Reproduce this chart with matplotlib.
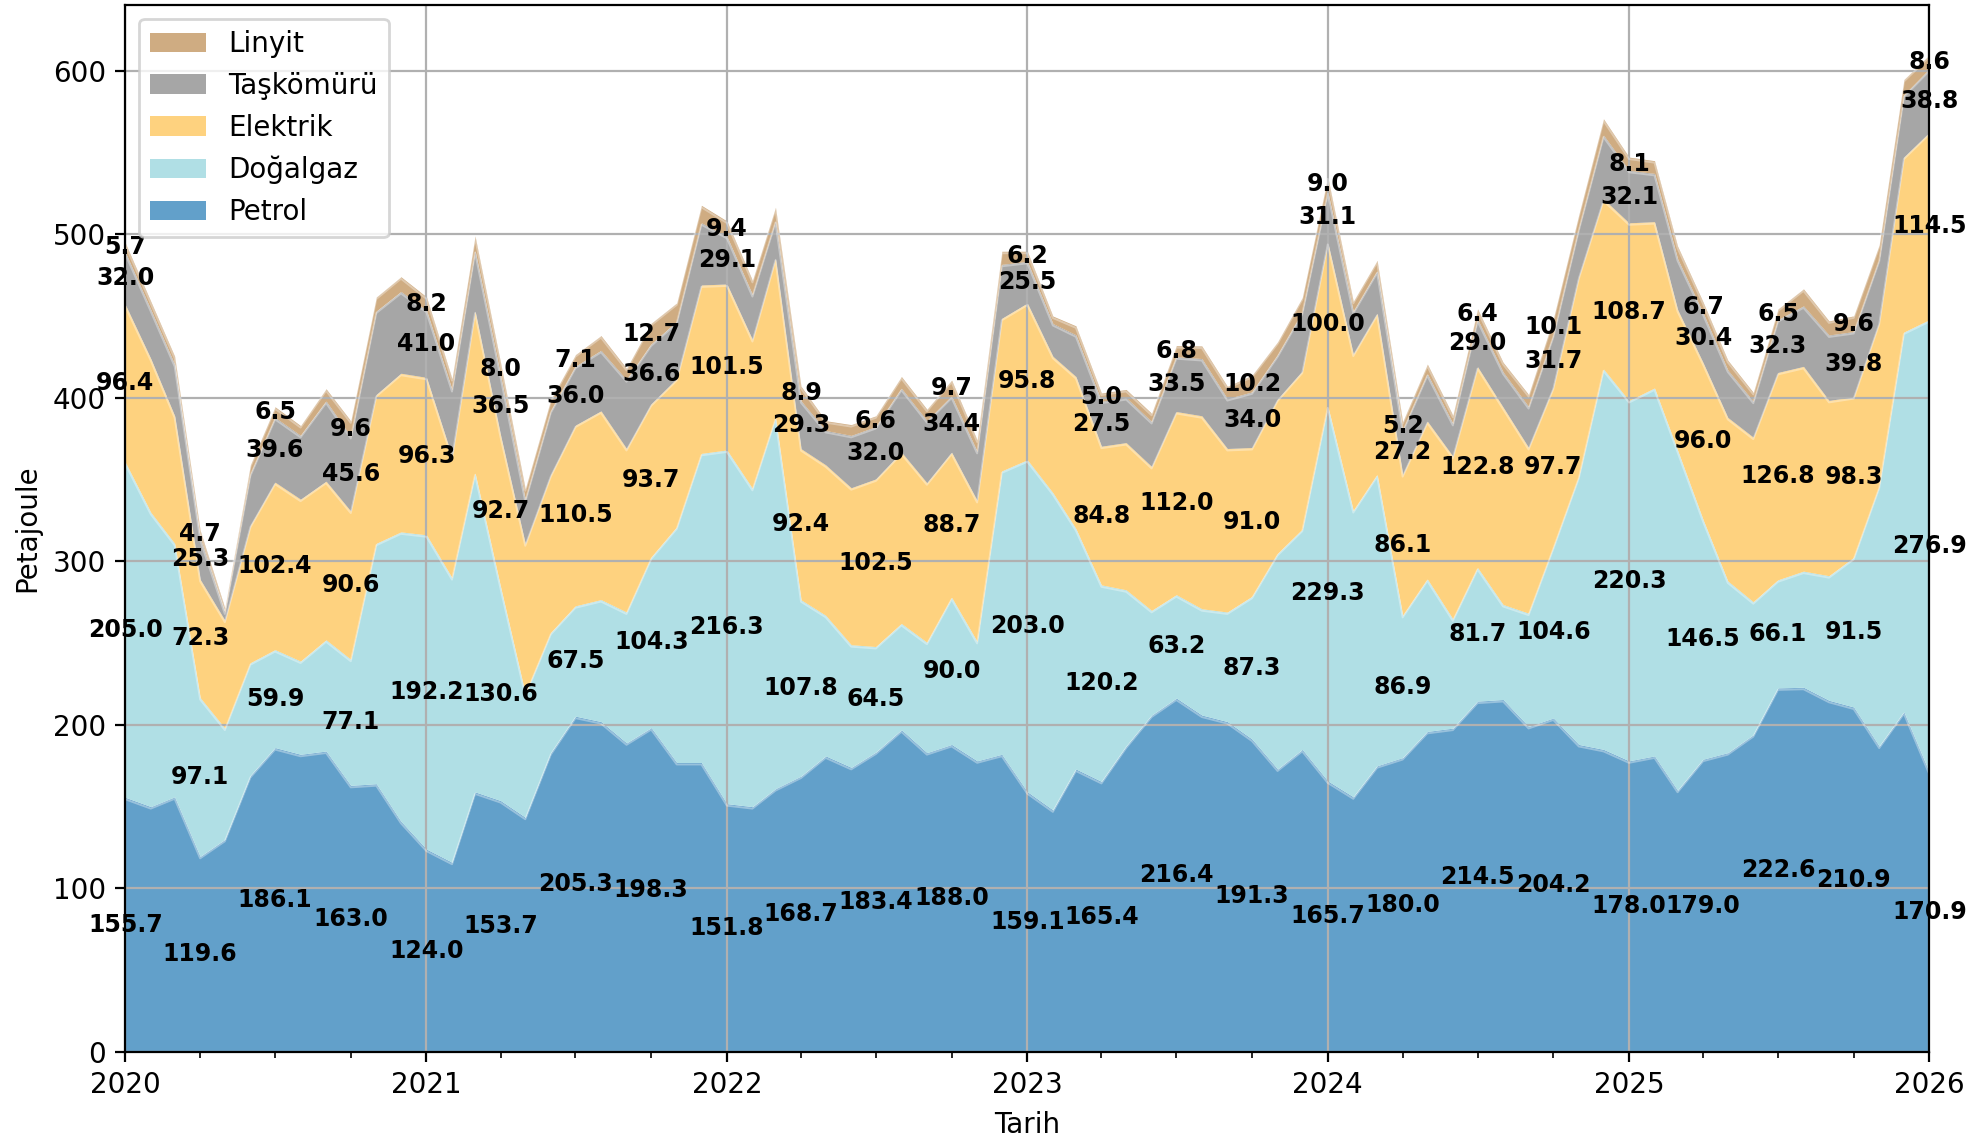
import matplotlib
matplotlib.use("Agg")
import matplotlib.pyplot as plt
import matplotlib.dates as mdates
import numpy as np
import pandas as pd

dates = pd.date_range("2020-01-01", periods=73, freq="MS")

petrol = [155.7, 150, 156, 119.6, 130, 169, 186.1, 182, 184, 163.0, 164, 141,
          124.0, 116, 159, 153.7, 143.5, 183, 205.3, 202, 189, 198.3, 177, 177,
          151.8, 150, 161, 168.7, 181, 174, 183.4, 197, 183, 188.0, 178, 182,
          159.1, 148, 173, 165.4, 187, 206, 216.4, 206, 202, 191.3, 173, 185,
          165.7, 156, 175, 180.0, 196, 198, 214.5, 215.5, 199, 204.2, 188, 185,
          178.0, 181, 160, 179.0, 183, 194, 222.6, 223, 215, 210.9, 187, 208,
          170.9]
dogalgaz = [205.0, 180, 155, 97.1, 68, 69, 59.9, 57, 68, 77.1, 147, 177,
            192.2, 174, 195, 130.6, 75.5, 73.5, 67.5, 74.6, 80, 104.3, 144, 189,
            216.3, 194.6, 227, 107.8, 86, 75, 64.5, 65, 67.5, 90.0, 73, 173.3,
            203.0, 194, 147, 120.2, 95.6, 64, 63.2, 65, 67, 87.3, 131.8, 134.6,
            229.3, 175, 178, 86.9, 93.2, 66.8, 81.7, 58.1, 69.3, 104.6, 164, 232.6,
            220.3, 225, 208, 146.5, 105, 81.3, 66.1, 71, 76.2, 91.5, 159, 232.2,
            276.9]
elektrik = [96.4, 94, 78, 72.3, 66, 84, 102.4, 99, 97, 90.6, 91, 97,
            96.3, 74, 99, 92.7, 91.7, 96.5, 110.5, 115.4, 100, 93.7, 90.7, 103,
            101.5, 91, 97.3, 92.4, 92, 96, 102.5, 104.8, 97.5, 88.7, 86.2, 93.3,
            95.8, 83.4, 93, 84.8, 90, 88, 112.0, 118, 100, 91.0, 94.4, 96.7,
            100.0, 95.7, 98.6, 86.1, 96.5, 99.5, 122.8, 120.7, 101.3, 97.7, 122, 104,
            108.7, 101.7, 86, 96.0, 100, 100.6, 126.8, 125.2, 107.2, 98.3, 100.2, 107,
            114.5]
taskomuru = [32.0, 30, 31.4, 25.3, 5, 31.5, 39.6, 39, 49, 45.6, 51, 50,
             41.0, 41, 37, 36.5, 27, 39, 36.0, 37, 42, 36.6, 35, 38,
             29.1, 27.5, 23, 29.3, 21, 32, 32.0, 39, 38, 34.4, 30, 33,
             25.5, 20, 25.5, 27.5, 27.5, 27.5, 33.5, 35, 30.5, 34.0, 27, 36,
             31.1, 26, 26, 27.2, 29, 20, 29.0, 21.5, 25, 31.7, 29.5, 39,
             32.1, 29.5, 31, 30.4, 29, 22, 32.3, 37, 40, 39.8, 38.5, 38,
             38.8]
linyit = [5.7, 5, 5, 4.7, 2.5, 5.5, 6.5, 6, 7.5, 9.6, 8.6, 9,
          8.2, 6.7, 9, 8.0, 6.7, 7, 7.1, 9, 7, 12.7, 11.3, 10.7,
          9.4, 8.7, 8.2, 8.9, 6, 6.6, 6.6, 7.2, 7, 9.7, 7, 8,
          6.2, 4.6, 5.5, 5.0, 5, 5, 6.8, 7.7, 7.5, 10.2, 8, 9,
          9.0, 6.3, 6.4, 5.2, 5.9, 5, 6.4, 5.9, 7.4, 10.1, 8.5, 10,
          8.1, 7.8, 7.8, 6.7, 6, 5.4, 6.5, 10.4, 8.6, 9.6, 8.9, 9.4,
          8.6]

names = ["Petrol", "Doğalgaz", "Elektrik", "Taşkömürü", "Linyit"]
values = [petrol, dogalgaz, elektrik, taskomuru, linyit]
colors = ["#62a0ca", "#b0dfe5", "#fed27f", "#a6a6a6", "#cfac82"]

x = mdates.date2num(dates.to_pydatetime())

fig = plt.figure(figsize=(1985 / 200, 1137 / 200), dpi=200)
ax = fig.add_axes([0.0631, 0.0748, 0.9089, 0.9208])

bottom = np.zeros(len(x))
handles = []
for name, vals, c in zip(names, values, colors):
    vals = np.array(vals, dtype=float)
    top = bottom + vals
    h = ax.fill_between(x, bottom, top, color=c, lw=0, label=name)
    handles.append(h)
    # faint light seam along the top of each layer
    ax.plot(x, top - 1.2, color="white", lw=0.7, alpha=0.35)
    # value labels every 3 months, centred in each layer
    for i in range(0, len(x), 3):
        ax.text(x[i], bottom[i] + vals[i] / 2, f"{vals[i]:.1f}",
                ha="center", va="center", fontsize=8.5, fontweight="bold")
    bottom = top

ax.set_xlim(x[0], x[-1])
ax.set_ylim(0, bottom.max() * 1.05)

ax.xaxis.set_major_locator(mdates.YearLocator())
ax.xaxis.set_major_formatter(mdates.DateFormatter("%Y"))
ax.xaxis.set_minor_locator(mdates.MonthLocator(bymonth=[4, 7, 10]))

ax.grid(True)
ax.set_xlabel("Tarih")
ax.set_ylabel("Petajoule")
ax.legend(handles[::-1], names[::-1], loc="upper left")

fig.savefig("out.png", dpi=200)
